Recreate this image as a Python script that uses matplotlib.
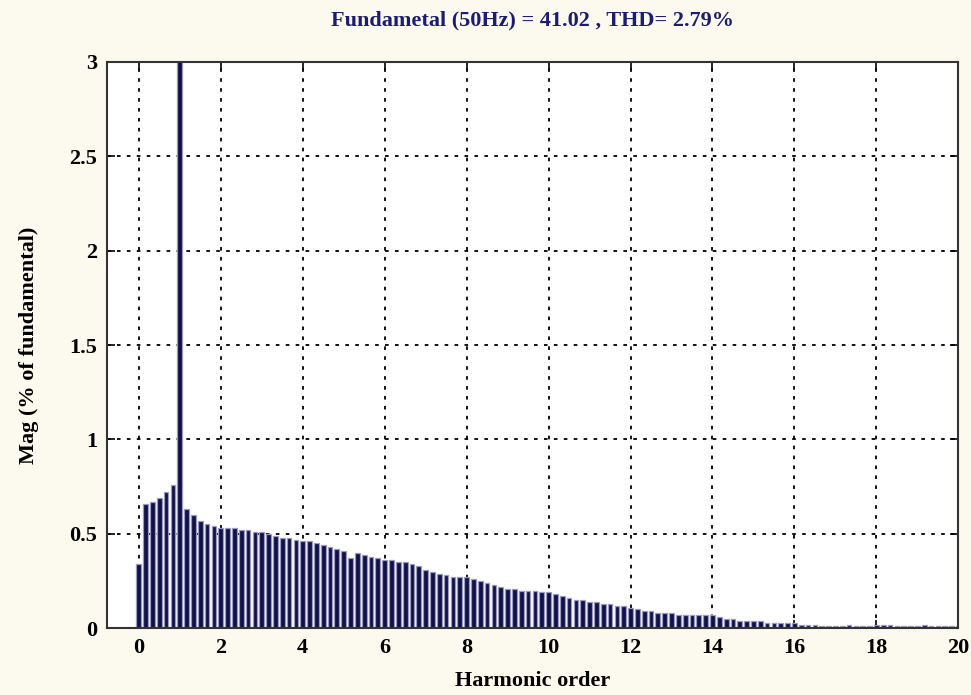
import numpy as np
import matplotlib
matplotlib.use("Agg")
import matplotlib.pyplot as plt

# FFT bins every 1/6 of the fundamental (50 Hz / 6 = 8.33 Hz resolution)
bins_per_harmonic = 6
harmonic_max = 20

# magnitude in % of fundamental (fundamental = 100, clipped by ylim)
mag = [
    0.34, 0.66, 0.67, 0.69, 0.72, 0.76,
    100.0, 0.63, 0.60, 0.57, 0.55, 0.54,
    0.53, 0.53, 0.53, 0.52, 0.52, 0.51,
    0.51, 0.50, 0.49, 0.48, 0.48, 0.47,
    0.46, 0.46, 0.45, 0.44, 0.43, 0.42,
    0.41, 0.37, 0.40, 0.39, 0.38, 0.37,
    0.36, 0.36, 0.35, 0.35, 0.34, 0.33,
    0.31, 0.30, 0.29, 0.28, 0.27, 0.27,
    0.27, 0.26, 0.25, 0.24, 0.23, 0.22,
    0.21, 0.21, 0.20, 0.20, 0.20, 0.19,
    0.19, 0.18, 0.17, 0.16, 0.15, 0.15,
    0.14, 0.14, 0.13, 0.13, 0.12, 0.12,
    0.11, 0.10, 0.09, 0.09, 0.08, 0.08,
    0.08, 0.07, 0.07, 0.07, 0.07, 0.07,
    0.07, 0.06, 0.05, 0.05, 0.04, 0.04,
    0.04, 0.04, 0.03, 0.03, 0.03, 0.03,
    0.03, 0.02, 0.02, 0.02, 0.01, 0.01,
    0.01, 0.01, 0.02, 0.01, 0.01, 0.01,
    0.02, 0.02, 0.02, 0.01, 0.01, 0.01,
    0.01, 0.02, 0.01, 0.01, 0.01, 0.01,
    0.01,
]
harmonic = np.arange(len(mag)) / bins_per_harmonic

fundamental = 41.02
thd = 2.79

x_ticks = list(range(0, 21, 2))
y_ticks = [0, 0.5, 1, 1.5, 2, 2.5, 3]

serif = ["Liberation Serif", "DejaVu Serif"]
plt.rcParams["font.family"] = serif

fig = plt.figure(figsize=(9.71, 6.95), dpi=100, facecolor="#fcfaee")
ax = fig.add_axes([0.110, 0.096, 0.877, 0.815])
ax.set_facecolor("white")

ax.bar(harmonic, mag, width=0.115, color="#10104a", edgecolor="#9a9abd",
       linewidth=0.9, zorder=2)

ax.set_xlim(-0.78, harmonic_max)
ax.set_ylim(0, 3)
ax.set_xticks(x_ticks)
ax.set_yticks(y_ticks)
ax.set_yticklabels(["0", "0.5", "1", "1.5", "2", "2.5", "3"])

ax.grid(True, color="black", linestyle=(0, (2, 3.5)), linewidth=1.3, zorder=1)
ax.set_axisbelow(True)

ax.tick_params(direction="in", top=True, right=True, length=6, width=1.2,
               labelsize=16, pad=7)
for lbl in ax.get_xticklabels() + ax.get_yticklabels():
    lbl.set_fontweight("bold")
for sp in ax.spines.values():
    sp.set_linewidth(1.5)
    sp.set_color("#333333")

ax.set_title(f"Fundametal (50Hz) = {fundamental:.2f} , THD= {thd:.2f}%",
             fontsize=16, fontweight="bold", color="#1c1c70", pad=26)
ax.set_xlabel("Harmonic order", fontsize=16, fontweight="bold", labelpad=9)
ax.set_ylabel("Mag (% of fundamental)", fontsize=16, fontweight="bold", labelpad=22)

fig.savefig("out.png", dpi=100, facecolor=fig.get_facecolor())
